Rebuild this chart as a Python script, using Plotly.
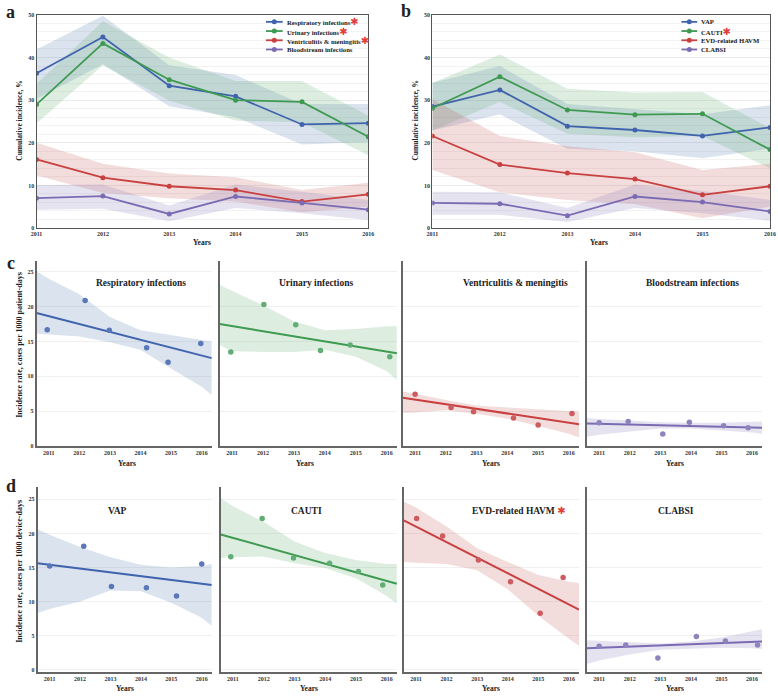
import plotly.graph_objects as go

W, H = 778, 696
years = [2011, 2012, 2013, 2014, 2015, 2016]

# ---------------- Panel a: cumulative incidence by infection site ----------------
a_names = ["Respiratory infections", "Urinary infections",
           "Ventriculitis & meningitis", "Bloodstream infections"]
a_star = [True, True, True, False]
a_resp = [36.3, 44.8, 33.4, 30.9, 24.3, 24.6]
a_resp_lo = [30.3, 38.4, 28.6, 26.0, 19.6, 20.2]
a_resp_hi = [41.9, 49.8, 38.2, 35.9, 29.1, 29.1]
a_uri = [29.0, 43.3, 34.8, 30.0, 29.6, 21.4]
a_uri_lo = [24.5, 38.2, 29.9, 25.2, 24.8, 17.1]
a_uri_hi = [33.8, 48.5, 40.0, 34.5, 34.5, 26.4]
a_ven = [16.1, 11.8, 9.8, 8.9, 6.2, 7.9]
a_ven_lo = [12.3, 8.2, 7.0, 6.2, 3.7, 5.0]
a_ven_hi = [20.0, 15.1, 12.8, 11.9, 8.9, 10.6]
a_blo = [7.0, 7.5, 3.3, 7.4, 5.9, 4.3]
a_blo_lo = [4.3, 4.5, 1.6, 4.7, 3.5, 1.9]
a_blo_hi = [10.1, 10.2, 5.3, 10.2, 8.5, 6.6]

# ---------------- Panel b: device-associated infections ----------------
b_names = ["VAP", "CAUTI", "EVD-related HAVM", "CLABSI"]
b_star = [False, True, False, False]
b_vap = [28.5, 32.4, 23.9, 23.0, 21.6, 23.6]
b_vap_lo = [22.9, 26.7, 18.6, 18.0, 16.4, 18.6]
b_vap_hi = [34.1, 38.0, 29.1, 27.9, 26.7, 28.8]
b_cauti = [28.1, 35.5, 27.7, 26.6, 26.8, 18.4]
b_cauti_lo = [22.9, 29.6, 22.1, 21.3, 21.6, 14.0]
b_cauti_hi = [34.0, 40.7, 32.7, 31.8, 31.9, 23.4]
b_evd = [21.6, 14.9, 12.9, 11.5, 7.8, 9.8]
b_evd_lo = [13.6, 8.4, 6.6, 5.6, 2.3, 5.0]
b_evd_hi = [30.2, 21.6, 19.2, 17.8, 13.6, 15.1]
b_cla = [5.9, 5.7, 2.9, 7.4, 6.1, 3.9]
b_cla_lo = [3.1, 3.1, 1.4, 4.7, 3.5, 1.7]
b_cla_hi = [8.5, 8.4, 4.7, 10.2, 8.7, 6.6]

# ---------------- Panels c and d: incidence rates with linear trend ----------------
band_x = [2010.6, 2011, 2012, 2013, 2014, 2015, 2016, 2016.33]
trend_x = [2010.6, 2016.33]

c_titles = ["Respiratory infections", "Urinary infections",
            "Ventriculitis & meningitis", "Bloodstream infections"]
c1_x = [2010.95, 2012.19, 2012.98, 2014.2, 2014.9, 2015.97]
c1_y = [16.7, 20.9, 16.6, 14.1, 12.0, 14.7]
c1_trend = [19.1, 12.6]
c1_hi = [25.1, 24.0, 21.8, 18.5, 16.6, 15.9, 15.2, 15.0]
c1_lo = [16.1, 16.0, 15.7, 14.9, 13.8, 11.1, 8.5, 7.3]

c2_x = [2010.96, 2012.03, 2013.06, 2013.86, 2014.82, 2016.1]
c2_y = [13.5, 20.3, 17.4, 13.7, 14.5, 12.8]
c2_trend = [17.5, 13.3]
c2_hi = [23.1, 22.3, 20.2, 17.9, 16.6, 16.8, 17.2, 17.2]
c2_lo = [14.5, 13.6, 13.5, 13.5, 13.8, 12.8, 10.7, 9.5]

c3_x = [2011.0, 2012.17, 2012.9, 2014.2, 2015.0, 2016.1]
c3_y = [7.4, 5.5, 4.9, 4.0, 3.0, 4.65]
c3_trend = [6.9, 3.1]
c3_hi = [7.8, 7.5, 6.6, 5.8, 5.5, 5.2, 5.0, 4.9]
c3_lo = [4.7, 4.8, 5.1, 4.6, 3.9, 2.85, 1.75, 1.2]

c4_x = [2011.0, 2011.95, 2013.08, 2013.95, 2015.07, 2015.87]
c4_y = [3.3, 3.5, 1.7, 3.4, 2.9, 2.6]
c4_trend = [3.2, 2.6]
c4_hi = [4.0, 3.85, 3.65, 3.4, 3.3, 3.3, 3.45, 3.5]
c4_lo = [1.3, 1.6, 2.1, 2.5, 2.5, 2.2, 1.9, 1.75]

d_titles = ["VAP", "CAUTI", "EVD-related HAVM", "CLABSI"]
d_star = [False, False, True, False]
d1_x = [2011.0, 2012.12, 2013.03, 2014.18, 2015.17, 2016.0]
d1_y = [15.2, 18.1, 12.2, 12.0, 10.8, 15.5]
d1_trend = [15.6, 12.4]
d1_hi = [20.6, 19.8, 18.0, 16.5, 15.4, 15.0, 15.2, 15.5]
d1_lo = [8.3, 8.9, 10.0, 11.6, 11.5, 9.8, 7.6, 6.4]

d2_x = [2010.93, 2011.95, 2012.97, 2014.14, 2015.08, 2015.87]
d2_y = [16.55, 22.2, 16.4, 15.6, 14.4, 12.4]
d2_trend = [19.85, 12.6]
d2_hi = [25.2, 24.0, 21.7, 18.8, 17.1, 16.1, 15.5, 15.5]
d2_lo = [16.4, 16.5, 16.6, 15.6, 14.9, 13.4, 10.8, 9.7]

d3_x = [2011.02, 2011.87, 2013.04, 2014.09, 2015.06, 2015.81]
d3_y = [22.2, 19.6, 16.1, 12.9, 8.25, 13.5]
d3_trend = [21.9, 8.8]
d3_hi = [24.7, 23.8, 21.0, 17.8, 15.8, 13.9, 12.9, 12.7]
d3_lo = [15.8, 15.7, 15.5, 14.6, 11.8, 7.9, 4.5, 3.5]

d4_x = [2011.0, 2011.87, 2012.92, 2014.18, 2015.13, 2016.18]
d4_y = [3.4, 3.6, 1.7, 4.85, 4.2, 3.6]
d4_trend = [3.1, 4.1]
d4_hi = [4.3, 4.2, 4.0, 3.8, 4.1, 4.7, 5.6, 5.9]
d4_lo = [0.8, 1.3, 2.2, 2.9, 3.1, 3.2, 3.1, 3.0]

c_ticks = [0, 5, 10, 15, 20, 25]
ab_ticks = [0, 10, 20, 30, 40, 50]

# ---------------- styling ----------------
LINE = ["#3f63ad", "#3e9a50", "#c8403f", "#7b6bb3"]
DOT = ["#5a78b8", "#62ad75", "#cc5c5f", "#8f83be"]
FILL = ["rgba(76,114,176,0.20)", "rgba(85,168,104,0.20)",
        "rgba(196,78,82,0.20)", "rgba(129,114,178,0.20)"]
SERIF = "Liberation Serif, Times New Roman, serif"
STAR = "<span style='color:#e0403c;font-family:DejaVu Sans;font-size:10px'>✱</span>"


def px(x):
    return x / W


def py(y):
    return 1 - y / H


fig = go.Figure()


def band(xs, lo, hi, color, xa, ya):
    fig.add_trace(go.Scatter(
        x=list(xs) + list(xs)[::-1], y=list(hi) + list(lo)[::-1],
        fill="toself", fillcolor=color, line=dict(width=0),
        mode="lines", hoverinfo="skip", showlegend=False,
        xaxis=xa, yaxis=ya))


# Panels a and b
a_series = [(a_resp, a_resp_lo, a_resp_hi), (a_uri, a_uri_lo, a_uri_hi),
            (a_ven, a_ven_lo, a_ven_hi), (a_blo, a_blo_lo, a_blo_hi)]
b_series = [(b_vap, b_vap_lo, b_vap_hi), (b_cauti, b_cauti_lo, b_cauti_hi),
            (b_evd, b_evd_lo, b_evd_hi), (b_cla, b_cla_lo, b_cla_hi)]

for (series, names, xa, ya) in [(a_series, a_names, "x", "y"),
                                (b_series, b_names, "x2", "y2")]:
    for i, (v, lo, hi) in enumerate(series):
        band(years, lo, hi, FILL[i], xa, ya)
    for i, (v, lo, hi) in enumerate(series):
        fig.add_trace(go.Scatter(
            x=years, y=v, mode="lines+markers", name=names[i],
            line=dict(color=LINE[i], width=1.8),
            marker=dict(color=LINE[i], size=5),
            showlegend=False, xaxis=xa, yaxis=ya))

# Panels c and d
c_data = [(c1_x, c1_y, c1_trend, c1_lo, c1_hi), (c2_x, c2_y, c2_trend, c2_lo, c2_hi),
          (c3_x, c3_y, c3_trend, c3_lo, c3_hi), (c4_x, c4_y, c4_trend, c4_lo, c4_hi)]
d_data = [(d1_x, d1_y, d1_trend, d1_lo, d1_hi), (d2_x, d2_y, d2_trend, d2_lo, d2_hi),
          (d3_x, d3_y, d3_trend, d3_lo, d3_hi), (d4_x, d4_y, d4_trend, d4_lo, d4_hi)]

for row, data in enumerate([c_data, d_data]):
    for i, (sx, sy, tr, lo, hi) in enumerate(data):
        n = 3 + row * 4 + i
        xa, ya = "x%d" % n, "y%d" % n
        band(band_x, lo, hi, FILL[i], xa, ya)
        fig.add_trace(go.Scatter(x=trend_x, y=tr, mode="lines",
                                 line=dict(color=LINE[i], width=2),
                                 showlegend=False, xaxis=xa, yaxis=ya))
        fig.add_trace(go.Scatter(x=sx, y=sy, mode="markers",
                                 marker=dict(color=DOT[i], size=5.5),
                                 showlegend=False, xaxis=xa, yaxis=ya))

tickfont = dict(family=SERIF, size=6, color="#333", weight="bold")

layout = dict(
    width=W, height=H, margin=dict(l=0, r=0, t=0, b=0),
    paper_bgcolor="white", plot_bgcolor="white",
    font=dict(family=SERIF, color="#222"), showlegend=False,
)

# a/b axes
for k, (x0, x1) in [("", (31, 368)), ("2", (433, 776))]:
    layout["xaxis" + k] = dict(
        domain=[px(x0), px(x1)], range=[2011, 2016], tickvals=years,
        showgrid=False, zeroline=False, showline=True, mirror=True,
        linecolor="#555", linewidth=1.2, ticks="", tickfont=tickfont,
        anchor="y" + k)
    layout["yaxis" + k] = dict(
        domain=[py(227), py(12)], range=[0, 50], tickvals=ab_ticks,
        showgrid=True, gridcolor="#ebebeb", gridwidth=0.8,
        minor=dict(dtick=2, showgrid=True, gridcolor="#f3f3f3", gridwidth=0.6),
        zeroline=False, showline=True, mirror=True,
        linecolor="#555", linewidth=1.2, ticks="", tickfont=tickfont,
        anchor="x" + k)

c_cols = [(31, 209), (217, 397), (403, 582), (590, 768)]
d_cols = [(32, 209), (218, 397), (404, 582), (590, 768)]
for row, (cols, (y0, y1), yr) in enumerate([
        (c_cols, (260, 447), [-0.05, 26.6]),
        (d_cols, (488, 675), [-0.4, 26.85])]):
    for i, (x0, x1) in enumerate(cols):
        n = 3 + row * 4 + i
        layout["xaxis%d" % n] = dict(
            domain=[px(x0), px(x1)], range=[2010.6, 2016.33], tickvals=years,
            showgrid=False, zeroline=False, showline=True, linecolor="#666",
            linewidth=1.5, ticks="", tickfont=tickfont, anchor="y%d" % n)
        layout["yaxis%d" % n] = dict(
            domain=[py(y1), py(y0)], range=yr, tickvals=c_ticks,
            showticklabels=(i == 0), showgrid=True, gridcolor="#f0f0f0",
            gridwidth=0.8, zeroline=False, showline=True, linecolor="#666",
            linewidth=1.5, ticks="", tickfont=tickfont, anchor="x%d" % n)

ann = []
shapes = []


def text(x, y, s, size, angle=0, weight="bold", anchor="center"):
    ann.append(dict(x=px(x), y=py(y), xref="paper", yref="paper", text=s,
                    showarrow=False, textangle=angle, xanchor=anchor,
                    yanchor="middle",
                    font=dict(family=SERIF, size=size, color="#222", weight=weight)))


# legends (drawn compactly, as in the original figure)
def legend(x_line0, x_line1, x_text, y_rows, names, stars):
    for i, (nm, st) in enumerate(zip(names, stars)):
        y = y_rows[i]
        shapes.append(dict(type="line", xref="paper", yref="paper",
                           x0=px(x_line0), x1=px(x_line1), y0=py(y), y1=py(y),
                           line=dict(color=LINE[i], width=1.8)))
        xm = (x_line0 + x_line1) / 2
        shapes.append(dict(type="circle", xref="paper", yref="paper",
                           xsizemode="pixel", ysizemode="pixel",
                           xanchor=px(xm), yanchor=py(y),
                           x0=-2.5, x1=2.5, y0=-2.5, y1=2.5,
                           fillcolor=LINE[i], line=dict(width=0)))
        text(x_text, y, nm + (STAR if st else ""), 6.7, anchor="left")


legend(264, 281, 283, [19, 28.3, 37.6, 46.9], a_names, a_star)
legend(686, 702, 704, [19, 28.3, 37.6, 46.9], b_names, b_star)

# panel letters
text(5, 9, "a", 18)
text(406, 8, "b", 18)
text(5, 262, "c", 18)
text(5, 487, "d", 18)

# axis titles
text(14, 118, "Cumulative incidence, %", 7.5, -90)
text(416, 118, "Cumulative incidence, %", 7.5, -90)
text(199, 242, "Years", 7.5)
text(602, 242, "Years", 7.5)
text(13, 345, "Incidence rate, cases per 1000 patient-days", 8, -90)
text(13, 573, "Incidence rate, cases per 1000 device-days", 8, -90)
for xc in [123, 304, 493, 679]:
    text(xc, 464, "Years", 7.5)
for xc in [121, 308, 493, 679]:
    text(xc, 691, "Years", 7.5)

# subplot titles
for xc, t in zip([137, 315, 517, 697], c_titles):
    text(xc, 282, t, 9.5)
for xc, t, st in zip([113, 305, 521, 680], d_titles, d_star):
    text(xc, 512, t + (" " + STAR if st else ""), 9.5)

layout["annotations"] = ann
layout["shapes"] = shapes
fig.update_layout(**layout)

fig.write_html("out.html", config={"displayModeBar": False},
               post_script="document.body.style.margin='0';")
